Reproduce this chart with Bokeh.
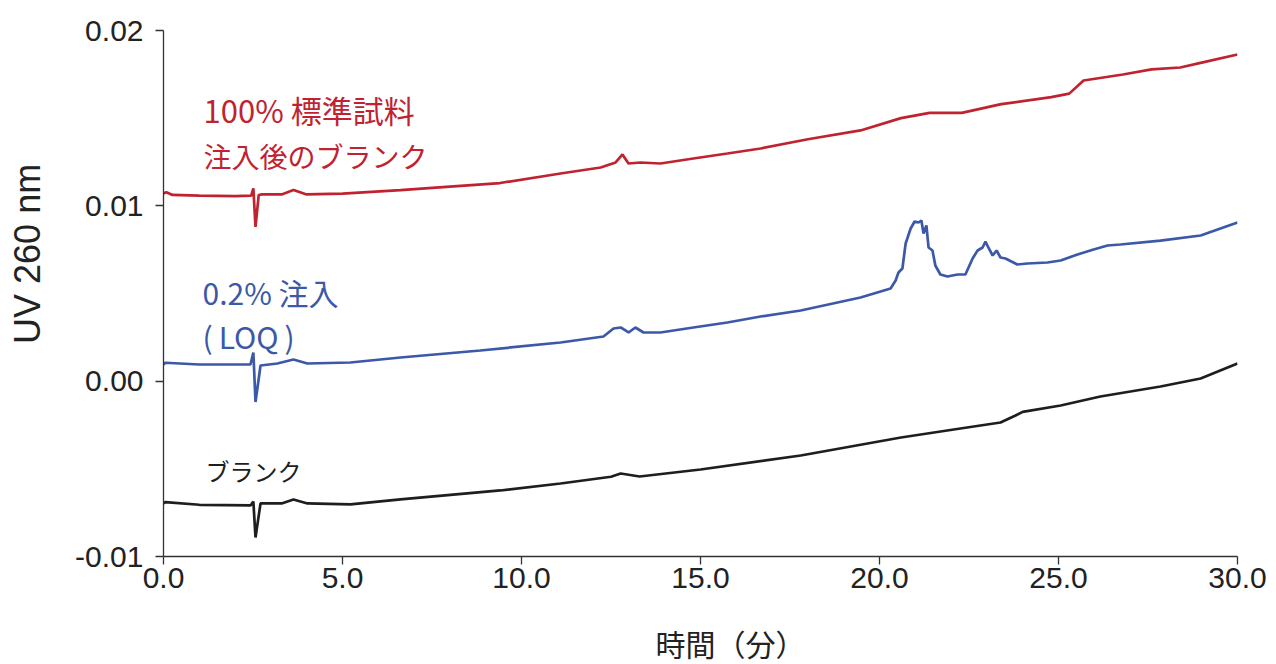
from bokeh.plotting import figure
from bokeh.models import Range1d, FixedTicker, NumeralTickFormatter, Label
from bokeh.embed import file_html
from bokeh.resources import INLINE

# ---- data ----
red_t = [0.00, 0.08, 0.25, 1.0, 2.0, 2.45, 2.51, 2.57, 2.66, 2.75, 3.3, 3.63, 4.0, 5.0, 6.62,
         8.0, 9.4, 11.09, 12.21, 12.63, 12.82, 12.99, 13.32, 13.88, 14.80, 15.75, 16.68,
         18.0, 19.47, 20.6, 21.4, 22.3, 23.4, 24.8, 25.3, 25.7, 26.8, 27.6, 28.4, 29.0, 30.0]
red_v = [0.0107, 0.01078, 0.01062, 0.01058, 0.01055, 0.01058, 0.0110, 0.0088, 0.01062, 0.01065,
         0.01065, 0.0109, 0.01065, 0.0107, 0.0109, 0.0111, 0.0113, 0.011845, 0.012187, 0.012472,
         0.012928, 0.012415, 0.01247, 0.012415, 0.0127, 0.012985, 0.01327, 0.0138, 0.0143,
         0.0150, 0.0153, 0.0153, 0.0158, 0.0162, 0.0164, 0.01715, 0.01749, 0.01778, 0.01789,
         0.01817, 0.01863]

blue_t = [0.0, 0.05, 1.0, 2.43, 2.51, 2.57, 2.71, 3.18, 3.63, 4.02, 5.22, 6.62, 8.85, 11.09,
          12.29, 12.57, 12.77, 12.99, 13.18, 13.41, 13.88, 14.80, 15.75, 16.68, 17.8, 19.47,
          20.31, 20.45, 20.53, 20.64, 20.73, 20.87, 20.98, 21.09, 21.17, 21.23, 21.31, 21.37,
          21.48, 21.56, 21.70, 21.90, 22.18, 22.40, 22.60, 22.74, 22.88, 22.96, 23.04, 23.16,
          23.27, 23.38, 23.52, 23.85, 24.13, 24.69, 25.06, 25.53, 25.98, 26.37, 26.73, 27.85,
          28.97, 30.0]
blue_v = [0.00095, 0.00105, 0.00095, 0.00095, 0.001637, -0.001187, 0.000895, 0.001009,
          0.001237, 0.001009, 0.001066, 0.001351, 0.00175, 0.002207, 0.002549, 0.003005,
          0.003062, 0.002777, 0.003062, 0.002777, 0.002777, 0.003062, 0.003347, 0.003689,
          0.00403, 0.004773, 0.005286, 0.005742, 0.006199, 0.006427, 0.007853, 0.008708,
          0.009107, 0.00905, 0.009164, 0.008423, 0.008879, 0.007625, 0.007453, 0.006598,
          0.006085, 0.005971, 0.006085, 0.006085, 0.006997, 0.007453, 0.007625, 0.007967,
          0.007625, 0.007168, 0.007453, 0.007054, 0.006997, 0.006655, 0.006712, 0.006769,
          0.006883, 0.007225, 0.00751, 0.007738, 0.007795, 0.00802, 0.00831, 0.00905]

black_t = [0.0, 0.05, 1.0, 2.43, 2.51, 2.57, 2.71, 3.3, 3.63, 4.02, 5.22, 6.62, 9.41, 11.09,
           12.5, 12.77, 13.3, 15.0, 17.8, 20.6, 22.26, 23.38, 23.8, 24.0, 25.06, 26.17,
           27.85, 28.97, 30.0]
black_v = [-0.006975, -0.00690, -0.00705, -0.007089, -0.006861, -0.008914, -0.006975,
           -0.006975, -0.006747, -0.006975, -0.007032, -0.006747, -0.006234, -0.005835,
           -0.00545, -0.005265, -0.005436, -0.005037, -0.004238, -0.003212, -0.002699,
           -0.002356, -0.001957, -0.00175, -0.001386, -0.000873, -0.000303, 0.000153,
           0.001009]

x_ticks = [0, 5, 10, 15, 20, 25, 30]
y_ticks = [-0.01, 0.0, 0.01, 0.02]

RED = "#c0232f"
BLUE = "#3c58a8"
BLACK = "#1e1e1e"

p = figure(width=1276, height=664, output_backend="svg", toolbar_location=None,
           x_range=Range1d(0, 30), y_range=Range1d(-0.01, 0.02))
p.min_border_left = 163
p.min_border_right = 39
p.min_border_top = 30
p.min_border_bottom = 108
p.outline_line_color = None
p.xgrid.grid_line_color = None
p.ygrid.grid_line_color = None
p.background_fill_color = "white"

p.line(red_t, red_v, line_color=RED, line_width=2.7)
p.line(blue_t, blue_v, line_color=BLUE, line_width=2.7)
p.line(black_t, black_v, line_color=BLACK, line_width=2.7)

for ax in (p.xaxis[0], p.yaxis[0]):
    ax.axis_line_color = "#333333"
    ax.axis_line_width = 1.3
    ax.major_tick_line_color = "#333333"
    ax.major_tick_line_width = 1.3
    ax.major_tick_out = 8
    ax.major_tick_in = 0
    ax.minor_tick_line_color = None
    ax.major_label_text_font = "Liberation Sans"
    ax.major_label_text_font_size = "30px"
    ax.major_label_text_color = "#222222"
    ax.axis_label_text_font_style = "normal"
    ax.axis_label_text_color = "#222222"

p.xaxis.ticker = FixedTicker(ticks=x_ticks)
p.yaxis.ticker = FixedTicker(ticks=y_ticks)
p.xaxis.formatter = NumeralTickFormatter(format="0.0")
p.yaxis.formatter = NumeralTickFormatter(format="0.00")
p.xaxis.major_label_standoff = 3
p.yaxis.major_label_standoff = 12

# leading ideographic / em spaces shift the titles off-centre as in the reference
p.xaxis.axis_label = "\u3000\u3000時間（分）"
p.xaxis.axis_label_text_font = "'Liberation Sans', 'Noto Sans CJK JP'"
p.xaxis.axis_label_text_font_size = "30px"
p.xaxis.axis_label_standoff = 38

p.yaxis.axis_label = "\u2003\u2003\u2009UV 260 nm"
p.yaxis.axis_label_text_font = "Liberation Sans"
p.yaxis.axis_label_text_font_size = "36px"
p.yaxis.axis_label_standoff = 24

labels = [
    ("100% 標準試料", 1.12, 0.01550, RED, "31px"),
    ("注入後のブランク", 1.12, 0.01287, RED, "28px"),
    ("0.2% 注入", 1.09, 0.00506, BLUE, "30px"),
    ("(\u2009LOQ\u2009)", 1.09, 0.00260, BLUE, "30px"),
    ("ブランク", 1.17, -0.0051, BLACK, "24px"),
]
for txt, x, y, c, fs in labels:
    p.add_layout(Label(x=x, y=y, text=txt, text_color=c, text_font="Noto Sans CJK JP",
                       text_font_size=fs, text_baseline="middle", text_align="left"))

open("out.html", "w").write(file_html(p, INLINE))
